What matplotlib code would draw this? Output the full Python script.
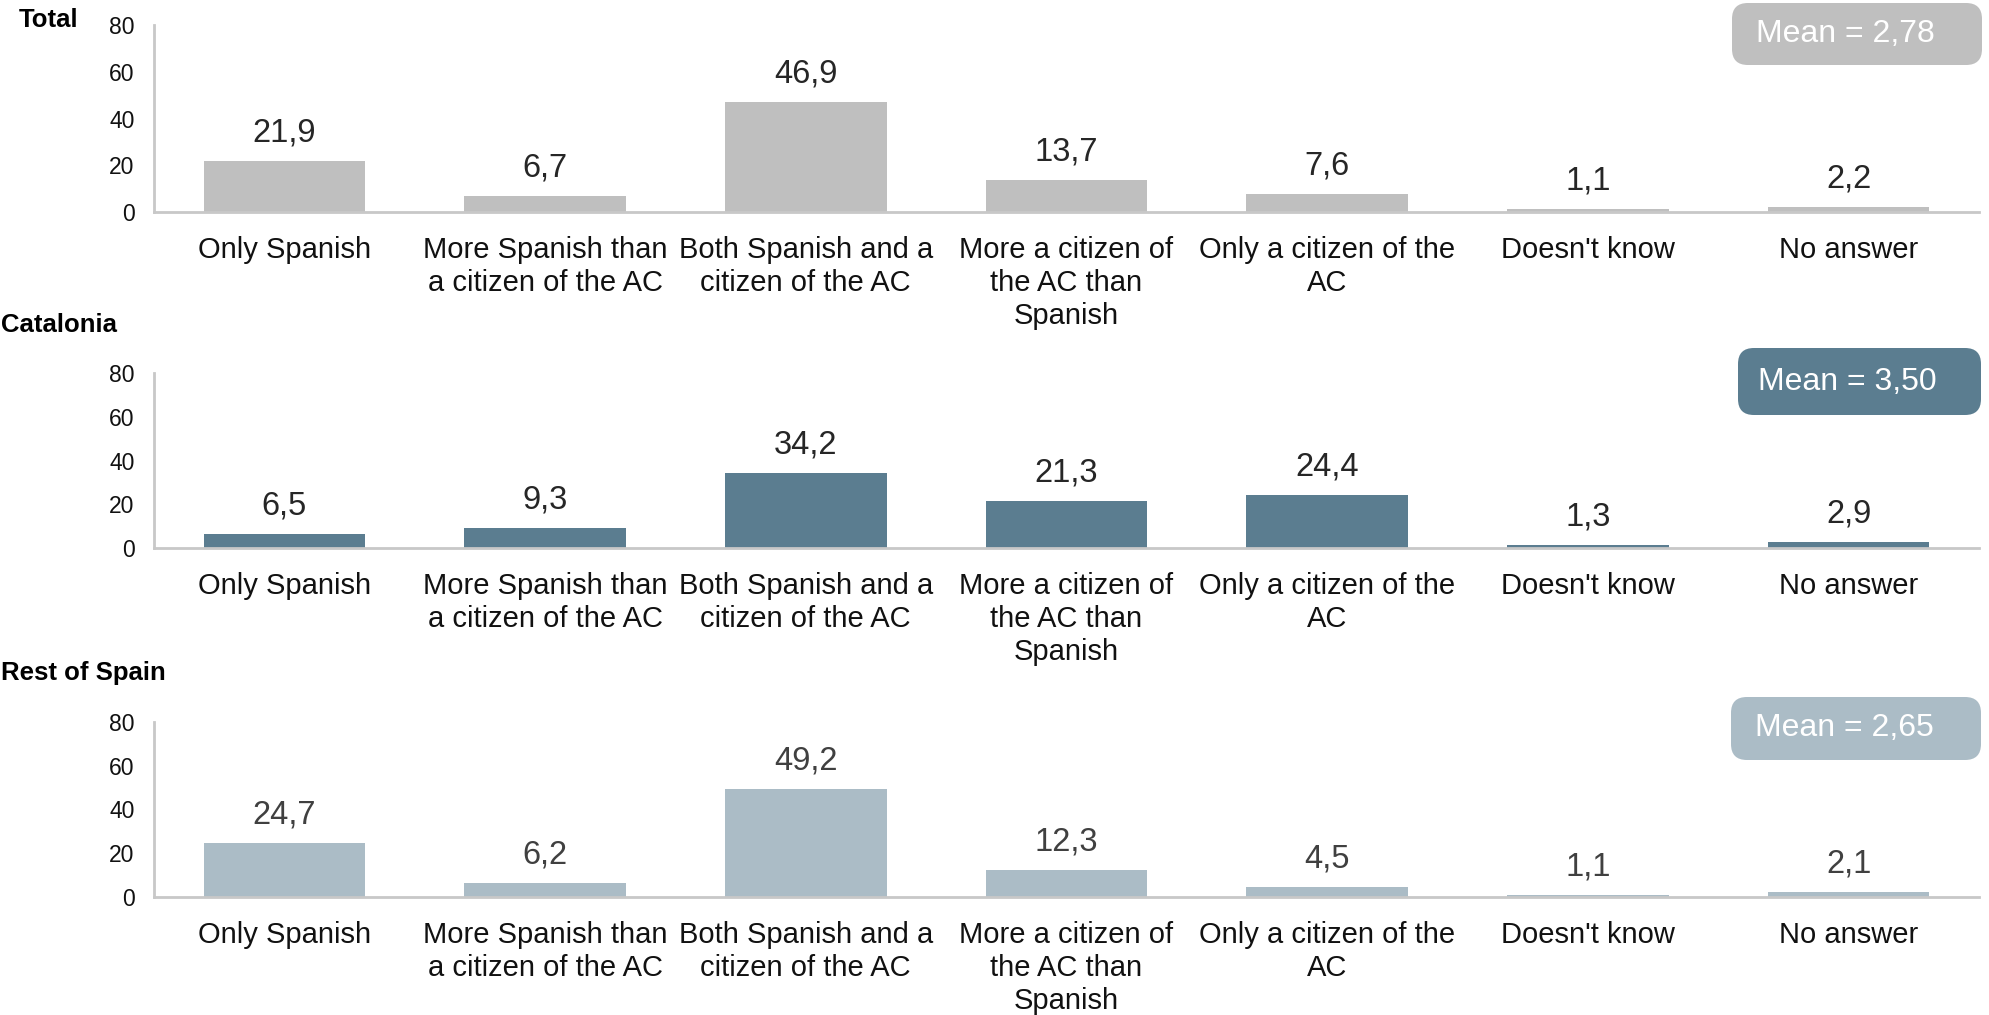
import matplotlib
matplotlib.use("Agg")
import matplotlib.pyplot as plt
from matplotlib.patches import FancyBboxPatch

plt.rcParams['font.family'] = ['Liberation Sans', 'DejaVu Sans']

categories = ["Only Spanish", "More Spanish than\na citizen of the AC",
              "Both Spanish and a\ncitizen of the AC",
              "More a citizen of\nthe AC than\nSpanish",
              "Only a citizen of the\nAC", "Doesn't know", "No answer"]

panel_titles = ["Total", "Catalonia", "Rest of Spain"]
total_vals = [21.9, 6.7, 46.9, 13.7, 7.6, 1.1, 2.2]
catalonia_vals = [6.5, 9.3, 34.2, 21.3, 24.4, 1.3, 2.9]
rest_vals = [24.7, 6.2, 49.2, 12.3, 4.5, 1.1, 2.1]
means = ["2,78", "3,50", "2,65"]
yticks = [0, 20, 40, 60, 80]

bar_colors = ["#BFBFBF", "#5B7D90", "#ABBCC6"]
label_colors = ["#262626", "#262626", "#404040"]

W, H = 1989, 1015
fig = plt.figure(figsize=(W / 100, H / 100), dpi=100)

# panel placement in pixels: (axis top, axis bottom)
panels = [(25, 212), (373, 548), (722, 897)]
# title anchor (x, y, ha)
title_pos = [(78, 20, "right"), (1, 325, "left"), (166, 673, "right")]
mean_boxes = [(1732, 3, 1982, 65), (1738, 348, 1981, 415), (1731, 697, 1981, 760)]
ax_left, ax_right = 154, 1979

all_vals = [total_vals, catalonia_vals, rest_vals]

for i, vals in enumerate(all_vals):
    top, bot = panels[i]
    ax = fig.add_axes([ax_left / W, 1 - bot / H, (ax_right - ax_left) / W, (bot - top) / H])
    x = range(len(categories))
    bars = ax.bar(x, vals, width=0.62, color=bar_colors[i])
    ax.set_xlim(-0.5, len(categories) - 0.5)
    ax.set_ylim(0, 80)
    ax.set_yticks(yticks)
    ax.set_xticks(list(x))
    ax.set_xticklabels(categories, fontsize=21, color="#111111", linespacing=1.24)
    ax.tick_params(axis='y', length=0, pad=14, labelsize=16.5, labelcolor="#111111")
    ax.tick_params(axis='x', length=0, pad=17)
    for s in ["top", "right"]:
        ax.spines[s].set_visible(False)
    for s in ["left", "bottom"]:
        ax.spines[s].set_color("#C8C8C8")
        ax.spines[s].set_linewidth(2)
    for b, v in zip(bars, vals):
        ax.annotate(f"{v:.1f}".replace(".", ","), (b.get_x() + b.get_width() / 2, v),
                    xytext=(0, 9), textcoords="offset points", ha="center", va="bottom",
                    fontsize=23.5, color=label_colors[i])

    tx, ty, ha = title_pos[i]
    fig.text(tx / W, 1 - ty / H, panel_titles[i], ha=ha, va="center",
             fontsize=18.5, fontweight="bold", color="black")

    x0, y0, x1, y1 = mean_boxes[i]
    box = FancyBboxPatch((x0 / W, 1 - y1 / H), (x1 - x0) / W, (y1 - y0) / H,
                         boxstyle="round,pad=0,rounding_size=0.008",
                         transform=fig.transFigure, facecolor=bar_colors[i],
                         edgecolor="none", mutation_aspect=W / H)
    fig.patches.append(box)
    fig.text(((x0 + x1) / 2 - 12) / W, 1 - (y0 + y1) / 2 / H, f"Mean = {means[i]}",
             ha="center", va="center", fontsize=23, color="white")

fig.savefig("out.png", dpi=100)
